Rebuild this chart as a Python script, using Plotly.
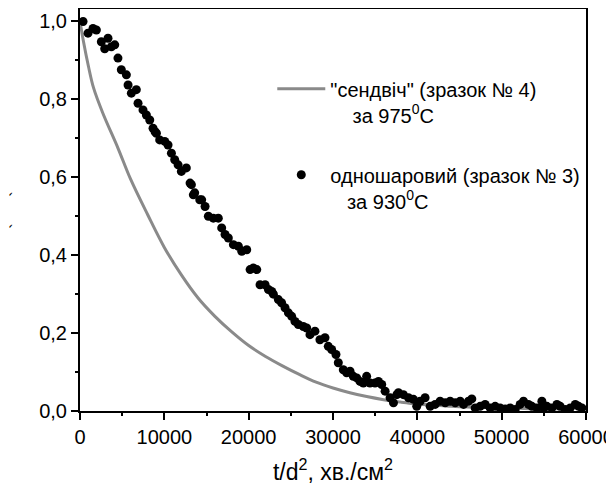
import plotly.graph_objects as go

# gray line: "сендвіч" (зразок № 4), 975°C
line_t = [0, 400, 1000, 1600, 2700, 4500, 6000, 8000, 10000, 12000, 14000, 16000, 18000,
          20000, 22000, 24000, 26000, 28000, 30000, 32000, 34000, 36000, 38000,
          40000, 42000, 44000, 46000, 48000, 50000, 52000, 54000, 56000, 58000]
line_v = [1.0, 0.95, 0.885, 0.83, 0.765, 0.675, 0.595, 0.505, 0.42, 0.35, 0.29, 0.243,
          0.203, 0.168, 0.14, 0.116, 0.094, 0.074, 0.059, 0.047, 0.037, 0.029, 0.023,
          0.018, 0.015, 0.012, 0.010, 0.009, 0.008, 0.007, 0.006, 0.006, 0.005]

# black dots: одношаровий (зразок № 3), 930°C
dot_t = [360, 950, 1540, 1940, 2530, 3320, 2930, 3720, 4120, 4500, 4900, 5500, 5700,
         6090, 6680, 6880, 7470, 7870, 8270, 8660, 8900, 9060, 9450, 10050, 10440,
         10840, 11230, 11630, 12020, 12610, 13050, 13210, 13440, 13600, 14200, 14430,
         14830, 15220, 15810, 16400, 16800, 17200, 17590, 18190, 18780, 19180, 19770,
         20170, 20560, 20960, 21350, 21950, 22340, 22740, 22930, 23520, 23900, 24310,
         24710, 25100, 25490, 25890, 26480, 26880, 27270, 27860, 28450, 29050, 29440,
         29840, 30350, 30630, 31220, 31620, 32020, 32410, 32810, 33200, 33600, 33990,
         34390, 34980, 35390, 35780, 36180, 36770, 37170, 37570, 37760, 38350, 38950,
         39540, 39930, 40330, 40920, 41520, 42110, 42700, 43300, 43890, 44490, 45080,
         45480, 46070, 46460, 46860, 47450, 48040, 48640, 49230, 49820, 50420, 51010,
         51600, 52190, 52590, 53180, 53580, 54170, 54770, 54960, 55360, 55950, 56550,
         56940, 57540, 58130, 58730, 59120, 59510]
dot_v = [1.0, 0.97, 0.982, 0.978, 0.948, 0.957, 0.93, 0.935, 0.94, 0.906, 0.876, 0.863,
         0.837, 0.816, 0.825, 0.79, 0.773, 0.76, 0.747, 0.726, 0.717, 0.713, 0.696,
         0.692, 0.683, 0.662, 0.645, 0.632, 0.615, 0.624, 0.585, 0.581, 0.555, 0.56,
         0.542, 0.542, 0.525, 0.50, 0.495, 0.495, 0.47, 0.453, 0.444, 0.427, 0.423,
         0.41, 0.414, 0.363, 0.367, 0.363, 0.324, 0.324, 0.312, 0.307, 0.30, 0.286,
         0.278, 0.265, 0.252, 0.243, 0.23, 0.222, 0.217, 0.213, 0.196, 0.205, 0.183,
         0.188, 0.166, 0.158, 0.145, 0.124, 0.106, 0.098, 0.102, 0.089, 0.085, 0.076,
         0.072, 0.089, 0.072, 0.072, 0.076, 0.068, 0.051, 0.034, 0.021, 0.042, 0.047,
         0.042, 0.034, 0.03, 0.012, 0.025, 0.034, 0.012, 0.017, 0.025, 0.021, 0.025,
         0.021, 0.025, 0.017, 0.025, 0.031, 0.008, 0.012, 0.017, 0.008, 0.012, 0.008,
         0.005, 0.008, 0.004, 0.017, 0.025, 0.017, 0.012, 0.008, 0.025, 0.008, 0.012,
         0.008, 0.017, 0.012, 0.004, 0.008, 0.017, 0.012, 0.008]

x_range = [0, 60000]
y_range = [0, 1.032]
x_ticks = [0, 10000, 20000, 30000, 40000, 50000, 60000]
y_ticks = [0.0, 0.2, 0.4, 0.6, 0.8, 1.0]
x_minor = [5000, 15000, 25000, 35000, 45000, 55000]
y_minor = [0.1, 0.3, 0.5, 0.7, 0.9]

NB = "\u00a0"
name_line = '"сендвіч" (зразок № 4)<br>' + NB * 4 + 'за 975<sup>0</sup>C'
name_dots = 'одношаровий (зразок № 3)<br>' + NB * 3 + 'за 930<sup>0</sup>C'
x_title = "t/d<sup>2</sup>, хв./см<sup>2</sup>"
y_title = "`" + NB * 6 + "`"

FONT = "Liberation Sans"
BLACK = "#000000"

fig = go.Figure()
fig.add_trace(go.Scatter(x=line_t, y=line_v, mode="lines", name=name_line,
                         line=dict(color="#8a8a8a", width=3, shape="spline"),
                         legendgroup="a"))
fig.add_trace(go.Scatter(x=dot_t, y=dot_v, mode="markers", name=name_dots,
                         marker=dict(color=BLACK, size=9), legendgroup="b"))

axis_common = dict(showgrid=False, zeroline=False, showline=True, linecolor=BLACK,
                   linewidth=2, mirror=True, ticks="outside", ticklen=7, tickwidth=2,
                   tickcolor=BLACK,
                   tickfont=dict(family=FONT, size=20, color=BLACK))

fig.update_layout(
    xaxis=dict(range=x_range, tickmode="array", tickvals=x_ticks, tickformat="d",
               title=dict(text=x_title, font=dict(family=FONT, size=23, color=BLACK),
                          standoff=17),
               **axis_common),
    yaxis=dict(range=y_range, tickmode="array", tickvals=y_ticks, tickformat=".1f",
               title=dict(text=y_title, font=dict(family=FONT, size=16, color=BLACK),
                          standoff=32),
               **axis_common),
    # overlay axes carrying the short minor ticks
    xaxis2=dict(overlaying="x", matches="x", side="bottom", range=x_range,
                tickmode="array", tickvals=x_minor, showticklabels=False,
                ticks="outside", ticklen=4, tickwidth=2, tickcolor=BLACK,
                showgrid=False, zeroline=False, showline=False),
    yaxis2=dict(overlaying="y", matches="y", side="left", range=y_range,
                tickmode="array", tickvals=y_minor, showticklabels=False,
                ticks="outside", ticklen=4, tickwidth=2, tickcolor=BLACK,
                showgrid=False, zeroline=False, showline=False),
)
fig.add_trace(go.Scatter(x=[], y=[], xaxis="x2", yaxis="y2", showlegend=False,
                         hoverinfo="skip"))

fig.update_layout(
    template="none",
    width=606, height=487,
    margin=dict(l=72, r=28, t=1, b=84, pad=0),
    paper_bgcolor="white", plot_bgcolor="white",
    separators=",.",
    showlegend=True,
    legend=dict(x=0.38, y=0.85, xanchor="left", yanchor="top",
                bgcolor="rgba(0,0,0,0)", itemwidth=48, valign="top",
                traceorder="grouped", tracegroupgap=31,
                font=dict(family=FONT, size=20, color=BLACK)),
    font=dict(family=FONT, color=BLACK),
)

fig.write_html("out.html")
